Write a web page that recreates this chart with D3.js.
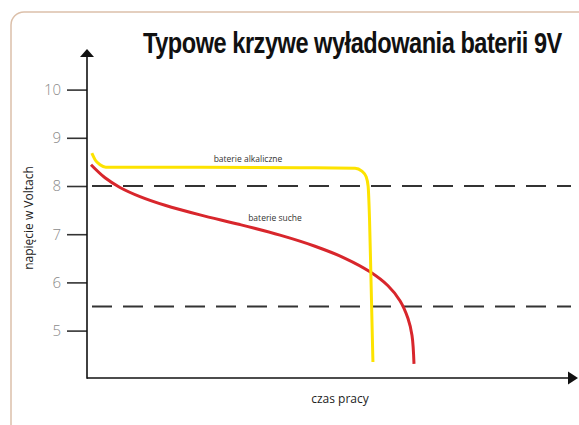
<!DOCTYPE html>
<html><head><meta charset="utf-8">
<script src="https://cdn.jsdelivr.net/npm/d3@7"></script>
<style>body{margin:0;background:#fff}svg{display:block}</style>
</head><body>
<script>
const titleText = "Typowe krzywe wyładowania baterii 9V";
const yLabel = "napięcie w Voltach";
const xLabel = "czas pracy";
const yTicks = [5, 6, 7, 8, 9, 10];
const refLevels = [8, 5.5];
const seriesNames = ["baterie alkaliczne", "baterie suche"];
// time in arbitrary units (0..100), voltage
const alkT = [1.0, 1.7, 2.7, 3.9, 23.4, 44.1, 55.5, 56.9, 57.8, 58.2, 58.5, 58.8, 59.2];
const alkV = [8.68, 8.54, 8.44, 8.39, 8.39, 8.38, 8.37, 8.31, 8.19, 8.0, 7.29, 6.05, 4.35];
const dryT = [0.83, 3.73, 6.83, 10.97, 16.15, 23.40, 31.68, 39.96, 47.20, 53.42, 58.59, 62.32, 64.80, 66.46, 67.29, 67.70];
const dryV = [8.44, 8.17, 7.97, 7.78, 7.60, 7.40, 7.20, 6.98, 6.75, 6.50, 6.22, 5.93, 5.62, 5.25, 4.90, 4.31];

const W = 579, H = 425;
const svg = d3.select("body").append("svg").attr("width", W).attr("height", H);

// frame
svg.append("rect").attr("x", 11).attr("y", 12).attr("width", 600).attr("height", 440)
  .attr("rx", 13).attr("fill", "none").attr("stroke", "#dcc0aa").attr("stroke-width", 1.5);

const x = d3.scaleLinear().domain([0, 100]).range([87, 570]);
const y = d3.scaleLinear().domain([8, 9]).range([186, 137.8]);
const x0 = 87, yBase = 378;

// title (condensed via horizontal scale)
const title = svg.append("text").attr("x", 0).attr("y", 0).text(titleText)
  .attr("font-family", "'Liberation Sans', Arial, sans-serif")
  .attr("font-weight", "bold").attr("font-size", 30).attr("fill", "#111")
  .attr("letter-spacing", -0.6);
const tw = title.node().getComputedTextLength();
title.attr("transform", `translate(143,53) scale(${419 / tw},1)`);

// ref dashed lines
svg.selectAll("line.ref").data(refLevels).join("line").attr("class", "ref")
  .attr("x1", 92).attr("x2", 571).attr("y1", d => y(d)).attr("y2", d => y(d))
  .attr("stroke", "#333").attr("stroke-width", 1.8).attr("stroke-dasharray", "20,11");

// y ticks
const yAxis = d3.axisLeft(y).tickValues(yTicks).tickSize(20).tickPadding(6).tickFormat(d3.format("d"));
const gy = svg.append("g").attr("transform", `translate(${x0},0)`).call(yAxis);
gy.select(".domain").remove();
gy.selectAll(".tick line").attr("stroke", "#333").attr("stroke-width", 1.6);
gy.selectAll(".tick text").attr("font-family", "'Open Sans', 'DejaVu Sans', sans-serif")
  .attr("font-weight", 300).attr("font-size", 15).attr("fill", "#8a8a8a");

// axes lines
svg.append("line").attr("x1", x0).attr("x2", x0).attr("y1", yBase + 0.8).attr("y2", 56)
  .attr("stroke", "#111").attr("stroke-width", 1.6);
svg.append("line").attr("x1", x0).attr("x2", 569).attr("y1", yBase).attr("y2", yBase)
  .attr("stroke", "#111").attr("stroke-width", 1.6);
svg.append("path").attr("d", `M${x0 - 7},57 L${x0},49 L${x0 + 7},57 Z`).attr("fill", "#111");
svg.append("path").attr("d", `M568,${yBase - 6.5} L578,${yBase} L568,${yBase + 6.5} Z`).attr("fill", "#111");

// curves
const lineA = d3.line().x(d => x(d[0])).y(d => y(d[1])).curve(d3.curveMonotoneX);
const lineD = d3.line().x(d => x(d[0])).y(d => y(d[1])).curve(d3.curveCatmullRom.alpha(0.5));
svg.append("path").datum(dryT.map((t, i) => [t, dryV[i]])).attr("d", lineD)
  .attr("fill", "none").attr("stroke", "#d8262c").attr("stroke-width", 3);
svg.append("path").datum(alkT.map((t, i) => [t, alkV[i]])).attr("d", lineA)
  .attr("fill", "none").attr("stroke", "#fde300").attr("stroke-width", 3);

// series labels
const lab = svg.append("g").attr("font-family", "'Open Sans', 'DejaVu Sans', sans-serif")
  .attr("font-size", 8.5).attr("fill", "#333").attr("text-anchor", "middle");
lab.append("text").attr("x", 248).attr("y", 162).text(seriesNames[0]);
lab.append("text").attr("x", 275).attr("y", 221).text(seriesNames[1]);

// axis labels
const axl = svg.append("g").attr("font-family", "'Open Sans', 'DejaVu Sans', sans-serif")
  .attr("font-size", 12).attr("fill", "#222").attr("text-anchor", "middle");
axl.append("text").attr("transform", "translate(33,218) rotate(-90)").text(yLabel);
axl.append("text").attr("x", 340).attr("y", 403).text(xLabel);
</script>
</body></html>
